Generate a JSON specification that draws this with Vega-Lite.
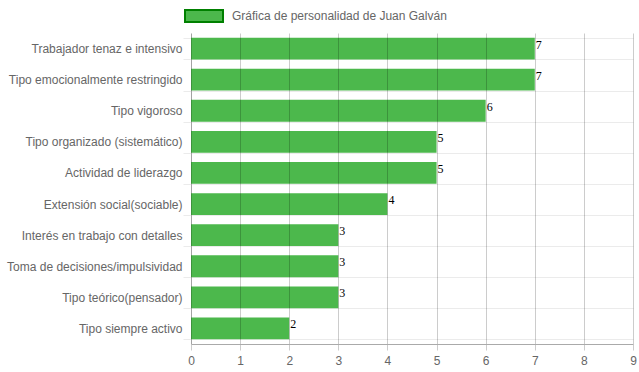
{
  "$schema": "https://vega.github.io/schema/vega-lite/v6.json",
  "width": 442,
  "height": 311,
  "autosize": {"type": "none"},
  "padding": {"left": 191, "top": 33, "right": 6, "bottom": 28},
  "background": "white",
  "config": {"view": {"stroke": null}, "font": "Liberation Sans"},
  "data": {
    "values": [
      {"rasgo": "Trabajador tenaz e intensivo", "valor": 7, "serie": "Gráfica de personalidad de Juan Galván"},
      {"rasgo": "Tipo emocionalmente restringido", "valor": 7, "serie": "Gráfica de personalidad de Juan Galván"},
      {"rasgo": "Tipo vigoroso", "valor": 6, "serie": "Gráfica de personalidad de Juan Galván"},
      {"rasgo": "Tipo organizado (sistemático)", "valor": 5, "serie": "Gráfica de personalidad de Juan Galván"},
      {"rasgo": "Actividad de liderazgo", "valor": 5, "serie": "Gráfica de personalidad de Juan Galván"},
      {"rasgo": "Extensión social(sociable)", "valor": 4, "serie": "Gráfica de personalidad de Juan Galván"},
      {"rasgo": "Interés en trabajo con detalles", "valor": 3, "serie": "Gráfica de personalidad de Juan Galván"},
      {"rasgo": "Toma de decisiones/impulsividad", "valor": 3, "serie": "Gráfica de personalidad de Juan Galván"},
      {"rasgo": "Tipo teórico(pensador)", "valor": 3, "serie": "Gráfica de personalidad de Juan Galván"},
      {"rasgo": "Tipo siempre activo", "valor": 2, "serie": "Gráfica de personalidad de Juan Galván"}
    ]
  },
  "encoding": {
    "y": {
      "field": "rasgo",
      "type": "nominal",
      "sort": null,
      "scale": {"paddingInner": 0.3, "paddingOuter": 0.15},
      "axis": {
        "title": null,
        "labelFontSize": 12,
        "labelColor": "#666666",
        "labelPadding": 1,
        "tickBand": "extent",
        "tickSize": 8,
        "tickColor": "#ebebeb",
        "grid": true,
        "gridColor": "#ebebeb",
        "domainColor": "#cccccc",
        "labelLimit": 200
      }
    }
  },
  "layer": [
    {
      "mark": {"type": "bar"},
      "encoding": {
        "x": {
          "field": "valor",
          "type": "quantitative",
          "scale": {"domain": [0, 9], "nice": false},
          "axis": {
            "title": null,
            "zindex": 1,
            "values": [0, 1, 2, 3, 4, 5, 6, 7, 8, 9],
            "labelFontSize": 12,
            "labelColor": "#666666",
            "labelPadding": 5,
            "labelFlush": false,
            "tickSize": 6,
            "tickColor": "#cccccc",
            "grid": true,
            "gridColor": "#000000",
            "gridOpacity": 0.2,
            "domainColor": "#aaaaaa"
          }
        },
        "fill": {
          "field": "serie",
          "type": "nominal",
          "scale": {"range": ["#4cb84c"]},
          "legend": {
            "orient": "none",
            "legendX": -7,
            "legendY": -37,
            "title": null,
            "symbolType": "M-1,-0.32H1V0.32H-1Z",
            "symbolSize": 1444,
            "symbolStrokeColor": "#008000",
            "symbolStrokeWidth": 2,
            "labelFontSize": 12,
            "labelColor": "#666666",
            "labelOffset": 8,
            "labelLimit": 400
          }
        }
      }
    },
    {
      "mark": {"type": "text", "align": "left", "baseline": "middle", "dx": 1, "dy": -4, "font": "Liberation Serif", "fontSize": 12, "color": "#000000"},
      "encoding": {
        "x": {"field": "valor", "type": "quantitative"},
        "text": {"field": "valor", "type": "quantitative"}
      }
    }
  ]
}
